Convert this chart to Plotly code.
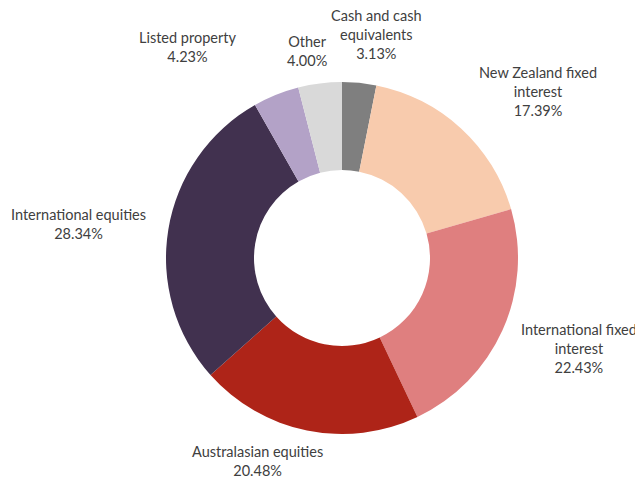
import math
import plotly.graph_objects as go

labels = ["Cash and cash<br>equivalents", "New Zealand fixed<br>interest", "International fixed<br>interest",
          "Australasian equities", "International equities", "Listed property", "Other"]
values = [3.13, 17.39, 22.43, 20.48, 28.34, 4.23, 4.00]
colors = ["#7f7f7f", "#f8cbad", "#df7f7f", "#ae2418", "#41314f", "#b3a2c7", "#d9d9d9"]
# pixel nudges for label placement (Excel "best fit" style)
nudges = [(16, -9), (9, 0), (7, -15), (-47, 1), (-10, -4), (-34, -19), (-12, -2)]

OFF = 8  # page body margin
W, H = 643 - OFF, 480 - OFF
cx, cy, R = 342 - OFF, 258 - OFF, 176
gap = 10

fig = go.Figure(go.Pie(
    values=values, labels=labels, sort=False, direction="clockwise", rotation=0,
    hole=0.5, marker=dict(colors=colors, line=dict(width=0)),
    textinfo="none", showlegend=False,
    domain=dict(x=[(cx - R) / W, (cx + R) / W], y=[1 - (cy + R) / H, 1 - (cy - R) / H]),
))

total = sum(values)
cum = 0
annotations = []
for lab, v, (nx, ny) in zip(labels, values, nudges):
    mid = (cum + v / 2) / total * 2 * math.pi
    cum += v
    s, c = math.sin(mid), math.cos(mid)
    px = cx + (R + gap) * s + nx
    py = cy - (R + gap) * c + ny
    xa = "left" if s > 0.3 else ("right" if s < -0.3 else "center")
    ya = "bottom" if c > 0.3 else ("top" if c < -0.3 else "middle")
    annotations.append(dict(
        x=px / W, y=1 - py / H, xref="paper", yref="paper",
        text=f"{lab}<br>{v:.2f}%", showarrow=False, xanchor=xa, yanchor=ya,
        align="center", font=dict(family="Lato", size=14.5, color="#404040"),
    ))

fig.update_layout(
    width=W, height=H, margin=dict(l=0, r=0, t=0, b=0),
    paper_bgcolor="white", plot_bgcolor="white",
    annotations=annotations,
)
fig.write_html("out.html")
